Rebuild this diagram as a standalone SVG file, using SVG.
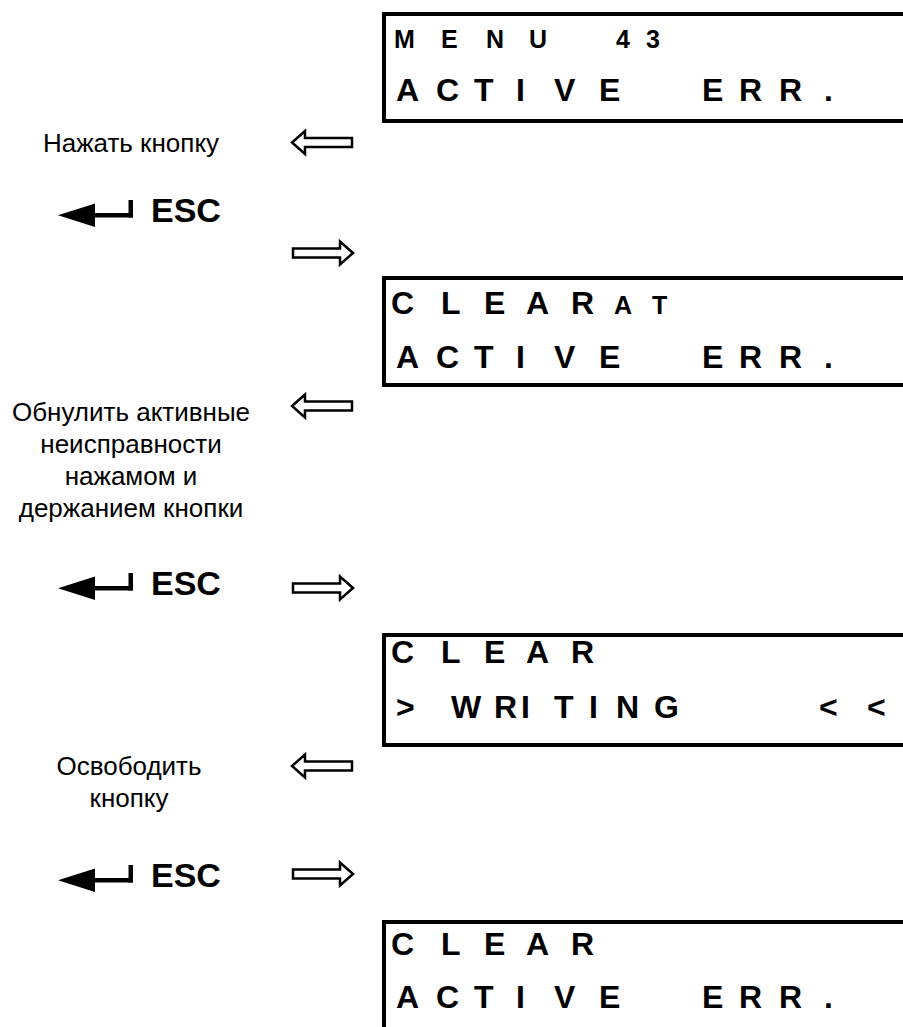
<svg xmlns="http://www.w3.org/2000/svg" width="903" height="1027" viewBox="0 0 903 1027">
<style>
.box{fill:none;stroke:#000;stroke-width:4}
.lcd{font-family:"Liberation Sans",Arial,sans-serif;font-weight:bold;font-size:32px;fill:#000}
.lcds{font-family:"Liberation Sans",Arial,sans-serif;font-weight:bold;font-size:25px;fill:#000}
.lbl{font-family:"Liberation Sans",Arial,sans-serif;font-size:26px;fill:#000;text-anchor:middle}
.esc{font-family:"Liberation Sans",Arial,sans-serif;font-weight:bold;font-size:34px;fill:#000}
.harrow{fill:#fff;stroke:#000;stroke-width:2.5;stroke-linejoin:miter}
</style>
<defs>
<path id="ha" class="harrow" d="M0,0 L13,-11.5 L13,-4.5 L60,-4.5 L60,4.5 L13,4.5 L13,11.5 Z"/>
<g id="enter">
<path d="M58,-6.75 L95,-18.5 L95,5 Z" fill="#000"/>
<rect x="93" y="-9" width="40" height="4.5" fill="#000"/>
<rect x="128.5" y="-22" width="4.5" height="17.5" fill="#000"/>
</g>
</defs>
<rect width="903" height="1027" fill="#fff"/>

<g id="screen1">
<rect class="box" x="384" y="14" width="560" height="107"/>
<text class="lcds" x="394 441 486 529 616 646" y="48">MENU43</text>
<text class="lcd" x="396 436 474 516 554 599 702 739 779 824" y="101">ACTIVEERR.</text>
</g>

<g id="label1">
<text class="lbl" x="131" y="152">Нажать кнопку</text>
</g>

<g id="esc1">
<use href="#enter" transform="translate(0,222)"/>
<text class="esc" x="151" y="222">ESC</text>
</g>

<g id="screen2">
<rect class="box" x="384" y="278" width="560" height="107"/>
<text class="lcd" x="391 441 484 526 571" y="314">CLEAR</text>
<text class="lcds" x="614 652" y="314">AT</text>
<text class="lcd" x="396 436 474 516 554 599 702 739 779 824" y="368">ACTIVEERR.</text>
</g>

<g id="label2">
<text class="lbl" x="131" y="421">Обнулить активные</text>
<text class="lbl" x="131" y="453">неисправности</text>
<text class="lbl" x="131" y="485">нажамом и</text>
<text class="lbl" x="131" y="517">держанием кнопки</text>
</g>

<g id="esc2">
<use href="#enter" transform="translate(0,595)"/>
<text class="esc" x="151" y="595">ESC</text>
</g>

<g id="screen3">
<rect class="box" x="384" y="635" width="560" height="110"/>
<text class="lcd" x="391 441 484 526 571" y="663">CLEAR</text>
<text class="lcd" x="396 451 494 521 554 589 616 654 819 867" y="718">&gt;WRITING&lt;&lt;</text>
</g>

<g id="label3">
<text class="lbl" x="129" y="775">Освободить</text>
<text class="lbl" x="129" y="807">кнопку</text>
</g>

<g id="esc3">
<use href="#enter" transform="translate(0,887)"/>
<text class="esc" x="151" y="887">ESC</text>
</g>

<g id="screen4">
<rect class="box" x="384" y="922" width="560" height="140"/>
<text class="lcd" x="391 441 484 526 571" y="955">CLEAR</text>
<text class="lcd" x="396 436 474 516 554 599 702 739 779 824" y="1008">ACTIVEERR.</text>
</g>

<g id="connectors">
<use href="#ha" transform="translate(292,142.5)"/>
<use href="#ha" transform="translate(353,253) scale(-1,1)"/>
<use href="#ha" transform="translate(292,406)"/>
<use href="#ha" transform="translate(353,588) scale(-1,1)"/>
<use href="#ha" transform="translate(292,766)"/>
<use href="#ha" transform="translate(353,874) scale(-1,1)"/>
</g>
</svg>
